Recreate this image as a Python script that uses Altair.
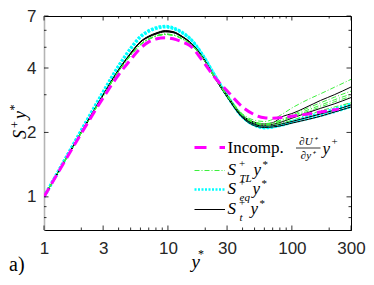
import altair as alt
import pandas as pd

# ---------------- data ----------------
ystar_grid = [1, 2, 3, 4, 5, 6, 7, 8, 9.5, 11, 13, 15, 19, 24, 30, 40, 50, 60, 70, 85, 100, 130, 170, 220, 300]

incomp_x = [1, 2, 3, 4, 5, 6, 7, 8, 9.5, 11, 13, 15, 19, 24, 30, 40, 50, 60, 70, 85, 100, 130, 170, 240]
incomp_y = [1.0, 1.98, 2.9, 3.72, 4.38, 4.95, 5.3, 5.47, 5.54, 5.48, 5.3, 5.1, 4.33, 3.6, 3.13, 2.63, 2.42, 2.34,
            2.33, 2.35, 2.38, 2.43, 2.49, 2.57]

St_B1 = [1.0, 2.0, 2.98, 3.9, 4.66, 5.28, 5.58, 5.76, 5.9, 5.85, 5.58, 5.27, 4.5, 3.62, 2.99, 2.4, 2.23, 2.19, 2.22, 2.38, 2.45, 2.62, 2.82, 3.0, 3.26]
St_B2 = [1.0, 2.0, 2.99, 3.92, 4.68, 5.3, 5.62, 5.8, 5.96, 5.9, 5.62, 5.3, 4.52, 3.6, 2.97, 2.38, 2.2, 2.16, 2.18, 2.25, 2.33, 2.46, 2.59, 2.72, 2.91]
St_B3 = [1.0, 2.0, 2.98, 3.9, 4.65, 5.28, 5.6, 5.78, 5.93, 5.88, 5.6, 5.28, 4.48, 3.57, 2.94, 2.36, 2.18, 2.14, 2.15, 2.2, 2.25, 2.34, 2.44, 2.54, 2.69]
St_B4 = [1.0, 2.01, 3.0, 3.93, 4.7, 5.32, 5.64, 5.83, 5.98, 5.92, 5.63, 5.3, 4.5, 3.58, 2.93, 2.34, 2.15, 2.11, 2.12, 2.16, 2.21, 2.29, 2.38, 2.49, 2.63]

STL_G1 = [1.0, 1.99, 2.95, 3.86, 4.58, 5.15, 5.45, 5.63, 5.74, 5.7, 5.47, 5.2, 4.47, 3.62, 3.0, 2.44, 2.28, 2.25, 2.3, 2.45, 2.6, 2.82, 3.03, 3.25, 3.54]
STL_G2 = [1.0, 1.99, 2.96, 3.87, 4.6, 5.17, 5.48, 5.66, 5.77, 5.72, 5.5, 5.22, 4.48, 3.6, 2.98, 2.42, 2.24, 2.2, 2.22, 2.31, 2.41, 2.58, 2.75, 2.92, 3.12]
STL_G3 = [1.0, 1.99, 2.95, 3.86, 4.58, 5.14, 5.46, 5.64, 5.75, 5.7, 5.48, 5.2, 4.46, 3.59, 2.97, 2.41, 2.23, 2.19, 2.21, 2.29, 2.38, 2.53, 2.68, 2.84, 3.02]
STL_G4 = [1.0, 2.0, 2.96, 3.87, 4.6, 5.16, 5.47, 5.65, 5.76, 5.71, 5.49, 5.21, 4.47, 3.6, 2.97, 2.4, 2.22, 2.18, 2.2, 2.27, 2.35, 2.49, 2.63, 2.78, 2.95]
STL_G5 = [1.0, 1.99, 2.95, 3.85, 4.57, 5.13, 5.44, 5.62, 5.73, 5.69, 5.47, 5.2, 4.46, 3.58, 2.96, 2.39, 2.21, 2.16, 2.17, 2.22, 2.28, 2.4, 2.52, 2.63, 2.75]

Seq_C1 = [1.0, 2.05, 3.1, 4.1, 4.95, 5.62, 5.98, 6.17, 6.27, 6.17, 5.88, 5.52, 4.62, 3.68, 2.98, 2.37, 2.17, 2.11, 2.12, 2.17, 2.23, 2.31, 2.4, 2.5, 2.64]
Seq_C2 = [1.0, 2.04, 3.08, 4.08, 4.92, 5.58, 5.93, 6.12, 6.22, 6.12, 5.84, 5.49, 4.6, 3.66, 2.97, 2.36, 2.16, 2.1, 2.12, 2.18, 2.25, 2.35, 2.46, 2.57, 2.72]

x_ticks_major = [1, 3, 10, 30, 100, 300]
x_ticks_minor = [2, 4, 5, 6, 7, 8, 9, 20, 40, 50, 60, 70, 80, 90, 200]
y_ticks_major = [1, 2, 4, 7]
y_ticks_minor = [0.8, 0.9, 3, 5, 6]


def long_df(series_dict, xs):
    rows = []
    for name, vals in series_dict.items():
        for xv, yv in zip(xs, vals):
            rows.append({"ystar": xv, "val": yv, "series": name})
    return pd.DataFrame(rows)


df_black = long_df({"B1": St_B1, "B2": St_B2, "B3": St_B3, "B4": St_B4}, ystar_grid)
df_green = long_df({"G1": STL_G1, "G2": STL_G2, "G3": STL_G3, "G4": STL_G4, "G5": STL_G5}, ystar_grid)
df_cyan = long_df({"C1": Seq_C1, "C2": Seq_C2}, ystar_grid)
df_mag = long_df({"M": incomp_y}, incomp_x)

# ---------------- layout ----------------
W, H = 307, 214
MAG, GRN, CYN = "#ff00ff", "#3cf03c", "#00ffff"
SERIF = "Liberation Serif"
SANS = "Liberation Sans"

xscale = alt.Scale(type="log", domain=[1, 300], nice=False)
yscale = alt.Scale(type="log", domain=[0.7, 7], nice=False)
xaxis = alt.Axis(values=x_ticks_major, title="", ticks=False, grid=False, labelFont=SANS,
                 labelFontSize=17, labelPadding=10, labelColor="#262626", domainColor="black",
                 labelFlush=False, format="~g")
yaxis = alt.Axis(values=y_ticks_major, title="", ticks=False, grid=False, labelFont=SANS,
                 labelFontSize=17, labelPadding=8, labelColor="#262626", domainColor="#b4b4b4",
                 domainWidth=1.6, labelFlush=False, format="~g")

X = alt.X("ystar:Q", scale=xscale, axis=xaxis)
Y = alt.Y("val:Q", scale=yscale, axis=yaxis)


def curves(df, color, width, dash=None):
    kw = dict(color=color, strokeWidth=width, interpolate="monotone", clip=True)
    if dash:
        kw["strokeDash"] = dash
    return alt.Chart(df).mark_line(**kw).encode(x=X, y=Y, detail="series:N")


def xtick_layer(vals, y0, y1):
    d = pd.DataFrame({"ystar": vals})
    return alt.Chart(d).mark_rule(color="black", strokeWidth=0.8).encode(
        x=X, y=alt.value(y0), y2=alt.value(y1))


def ytick_layer(vals, x0, x1):
    d = pd.DataFrame({"val": vals})
    return alt.Chart(d).mark_rule(color="black", strokeWidth=0.8).encode(
        y=Y, x=alt.value(x0), x2=alt.value(x1))


def txt(s, x, y, size, style="italic", font=SERIF, align="left", baseline="alphabetic", angle=0):
    d = pd.DataFrame({"t": [s]})
    kw = dict(align=align, baseline=baseline, font=font, fontSize=size, fontStyle=style, color="black")
    if angle:
        kw["angle"] = angle
    return alt.Chart(d).mark_text(**kw).encode(x=alt.value(x), y=alt.value(y), text="t:N")


def seg(x0, x1, y, color, width, dash=None):
    d = pd.DataFrame({"k": [0]})
    kw = dict(color=color, strokeWidth=width)
    if dash:
        kw["strokeDash"] = dash
    return alt.Chart(d).mark_rule(**kw).encode(x=alt.value(x0), x2=alt.value(x1), y=alt.value(y))


layers = [
    curves(df_cyan, CYN, 3, [2.5, 1.5]),
    curves(df_black, "black", 1),
    curves(df_green, GRN, 1, [5, 2, 1, 2]),
    curves(df_mag, MAG, 3, [10, 5]),
    # inward ticks: bottom/top/left/right
    xtick_layer(x_ticks_major, H, H - 4.5),
    xtick_layer(x_ticks_minor, H, H - 2.5),
    xtick_layer(x_ticks_major, 0, 4.5),
    xtick_layer(x_ticks_minor, 0, 2.5),
    ytick_layer(y_ticks_major, 0, 4.5),
    ytick_layer(y_ticks_minor, 0, 2.5),
    ytick_layer(y_ticks_major, W, W - 4.5),
    ytick_layer(y_ticks_minor, W, W - 2.5),
]

# ---------------- legend (manual, LaTeX-like) ----------------
LX0, LX1, TX = 150.5, 181, 183.5
layers += [
    seg(LX0, LX1, 131.5, MAG, 3, [12, 13]),
    txt("Incomp.", TX, 137, 17, style="normal"),
    txt("∂U⁺", 264, 129, 11, align="center"),
    seg(252, 276.5, 132, "black", 0.8),
    txt("∂y⁺", 264, 142.5, 11, align="center"),
    txt("y", 278.5, 137.5, 17),
    txt("+", 287.5, 126, 11, style="normal", baseline="middle"),
]


def s_row(base, sub, ypos_x):
    return [
        txt("S", TX, base, 17),
        txt("+", TX + 11.5, base - 11, 11, style="normal", baseline="middle"),
        txt(sub, TX + 12, base + 3.5, 11, baseline="middle"),
        txt("y", ypos_x, base, 17),
        txt("*", ypos_x + 9, base - 10, 11, style="normal", baseline="middle"),
    ]


layers += [seg(LX0, LX1, 154.5, GRN, 1, [5, 2, 1, 2])] + s_row(159.0, "TL", 209.5)
layers += [seg(LX0, LX1, 173.5, CYN, 2.5, [2, 1.5])] + s_row(178.0, "eq", 208.5)
layers += [seg(LX0, LX1, 193.5, "black", 1)] + s_row(198.0, "t", 206.5)

# axis titles (LaTeX-like, with raised superscripts)
layers += [
    txt("S", -18.5, 123, 18, angle=270),
    txt("+", -25.5, 112, 12, style="normal", angle=270),
    txt("y", -18.5, 103, 18, angle=270),
    txt("*", -26.5, 94.5, 12, style="normal", angle=270),
    txt("y", W / 2 - 6, 252, 19),
    txt("*", W / 2 + 0.5, 242, 12, style="normal"),
]

# panel label
layers += [txt("a)", -35, 255, 20, style="normal")]

chart = alt.layer(*layers).properties(
    width=W, height=H,
    padding={"left": 36, "top": 8, "right": 15, "bottom": 45},
    autosize=alt.AutoSizeParams(type="none"),
).configure_view(stroke="black", strokeWidth=1).configure_axis(grid=False)

chart.save("out.html", embed_options={"renderer": "svg", "actions": False})
